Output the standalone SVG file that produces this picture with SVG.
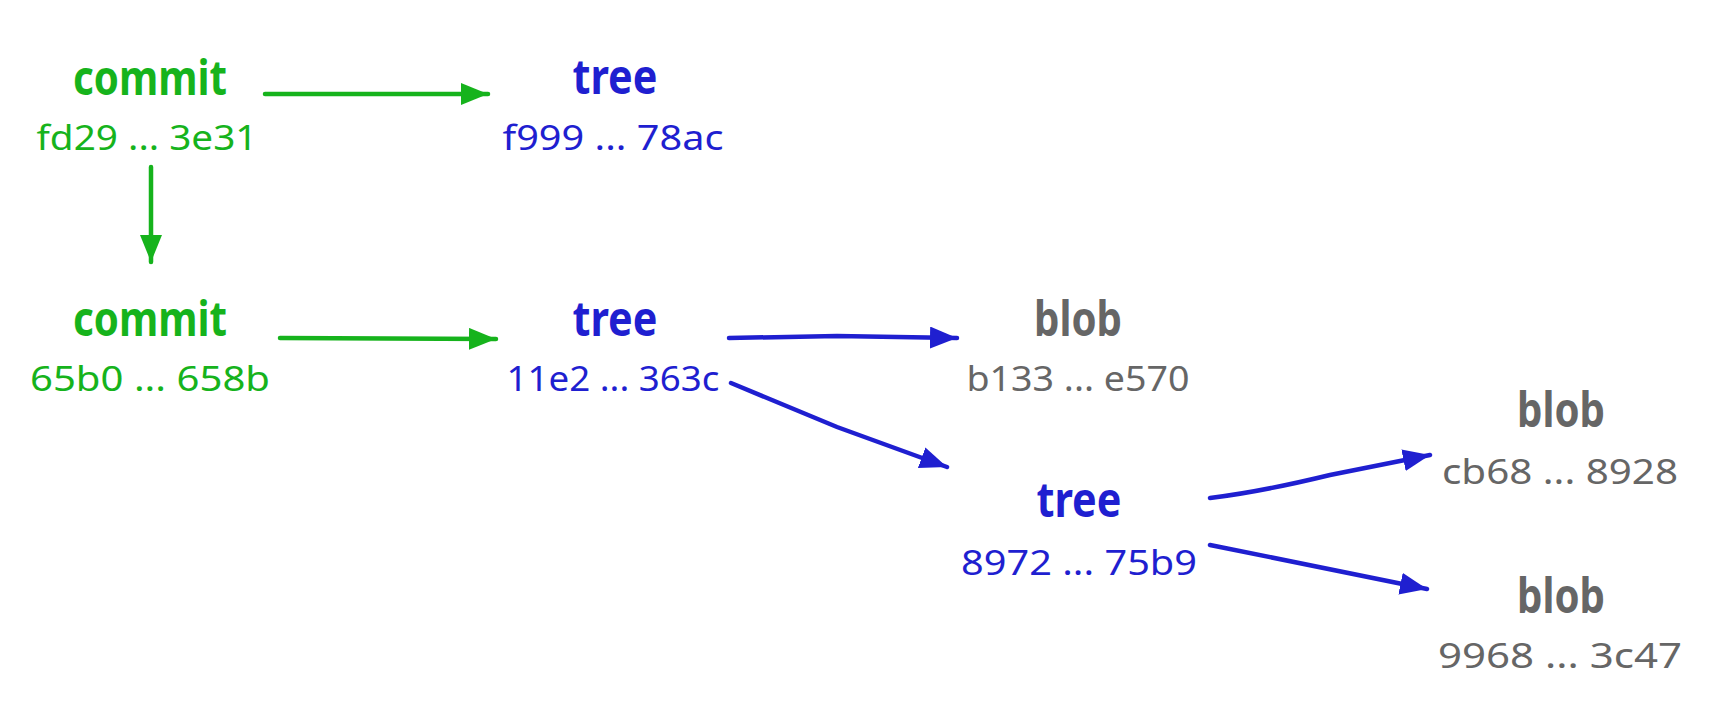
<svg xmlns="http://www.w3.org/2000/svg" width="1716" height="710" viewBox="0 0 1716 710">
<style>
.lbl{font-family:"Noto Sans","DejaVu Sans",sans-serif;font-weight:bold;font-size:49px;text-anchor:middle}
.hash{font-family:"Noto Sans","DejaVu Sans",sans-serif;font-size:34px;text-anchor:middle}
.g{fill:#16b31c}.b{fill:#1f1fd0}.k{fill:#666666}
.cg{stroke:#16b31c;stroke-width:4.5;fill:none;stroke-linecap:round}
.cb{stroke:#1f1fd0;stroke-width:4.5;fill:none;stroke-linecap:round}
</style>
<defs>
<marker id="ag" markerUnits="userSpaceOnUse" markerWidth="30" markerHeight="24" refX="27" refY="11" orient="auto"><path d="M0,0 L27,11 L0,22 Z" fill="#16b31c"/></marker>
<marker id="ab" markerUnits="userSpaceOnUse" markerWidth="30" markerHeight="24" refX="27" refY="11" orient="auto"><path d="M0,0 L27,11 L0,22 Z" fill="#1f1fd0"/></marker>
</defs>
<rect width="1716" height="710" fill="#ffffff"/>
<g id="connectors">
<path class="cg" d="M265,94 L488,94" marker-end="url(#ag)"/>
<path class="cg" d="M151,167 L151,262" marker-end="url(#ag)"/>
<path class="cg" d="M280,338 L496,339" marker-end="url(#ag)"/>
<path class="cb" d="M729,338 L837,336 L957,338" marker-end="url(#ab)"/>
<path class="cb" d="M731,383 L837,427 L947,467" marker-end="url(#ab)"/>
<path class="cb" d="M1210,498 Q1260,492 1330,475 L1430,455" marker-end="url(#ab)"/>
<path class="cb" d="M1210,545 L1427,589" marker-end="url(#ab)"/>
</g>
<g id="commit1"><text class="lbl g" x="150" y="95" textLength="154" lengthAdjust="spacingAndGlyphs">commit</text><text class="hash g" x="147" y="150" textLength="221" lengthAdjust="spacingAndGlyphs">fd29 ... 3e31</text></g>
<g id="tree1"><text class="lbl b" x="615" y="94" textLength="85" lengthAdjust="spacingAndGlyphs">tree</text><text class="hash b" x="613" y="150" textLength="221" lengthAdjust="spacingAndGlyphs">f999 ... 78ac</text></g>
<g id="commit2"><text class="lbl g" x="150" y="336" textLength="154" lengthAdjust="spacingAndGlyphs">commit</text><text class="hash g" x="150" y="391" textLength="240" lengthAdjust="spacingAndGlyphs">65b0 ... 658b</text></g>
<g id="tree2"><text class="lbl b" x="615" y="336" textLength="85" lengthAdjust="spacingAndGlyphs">tree</text><text class="hash b" x="613" y="391" textLength="213" lengthAdjust="spacingAndGlyphs">11e2 ... 363c</text></g>
<g id="blob1"><text class="lbl k" x="1078" y="336" textLength="88" lengthAdjust="spacingAndGlyphs">blob</text><text class="hash k" x="1078" y="391" textLength="223" lengthAdjust="spacingAndGlyphs">b133 ... e570</text></g>
<g id="tree3"><text class="lbl b" x="1079" y="517" textLength="85" lengthAdjust="spacingAndGlyphs">tree</text><text class="hash b" x="1079" y="575" textLength="236" lengthAdjust="spacingAndGlyphs">8972 ... 75b9</text></g>
<g id="blob2"><text class="lbl k" x="1561" y="427" textLength="88" lengthAdjust="spacingAndGlyphs">blob</text><text class="hash k" x="1560" y="484" textLength="236" lengthAdjust="spacingAndGlyphs">cb68 ... 8928</text></g>
<g id="blob3"><text class="lbl k" x="1561" y="613" textLength="88" lengthAdjust="spacingAndGlyphs">blob</text><text class="hash k" x="1560" y="668" textLength="244" lengthAdjust="spacingAndGlyphs">9968 ... 3c47</text></g>
</svg>
